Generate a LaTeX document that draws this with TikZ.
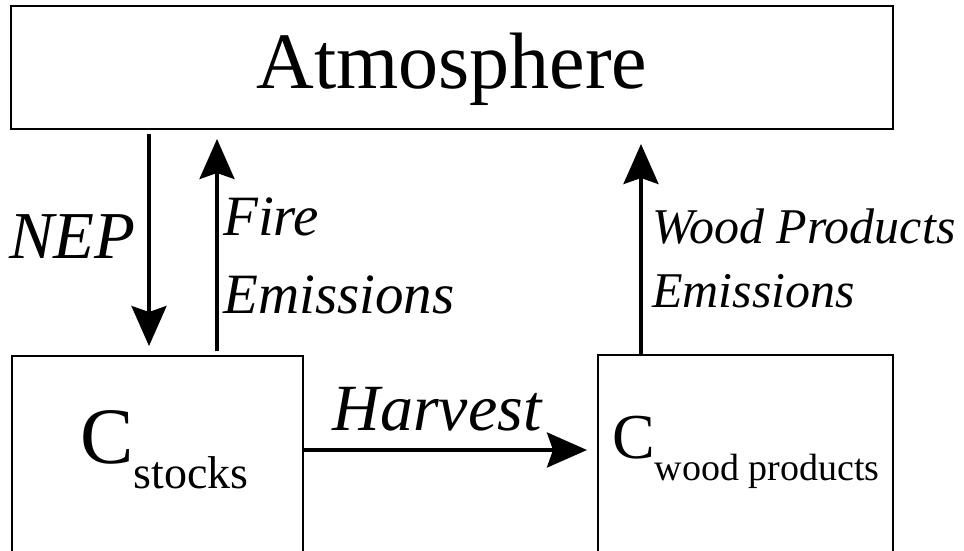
\documentclass[tikz,border=0pt]{standalone}
\usepackage{fontspec}
\setmainfont{Liberation Serif}
\usetikzlibrary{arrows.meta,calc}
\tikzset{
  pool/.style={draw=black, line width=2pt, rectangle, inner sep=0pt},
  flow/.style={line width=3.5pt, -{Stealth[length=40pt,width=35pt,inset=6pt]}},
  lbl/.style={anchor=base west, inner sep=0pt},
}
\newcommand{\fsz}[2]{\fontsize{#1}{#2}\selectfont}

\begin{document}
\begin{tikzpicture}[x=1pt,y=-1pt]
  \clip (0,0) rectangle (964,550);
  % boxes
  \node[pool, minimum width=882.5pt, minimum height=123.5pt,
        text height=60pt, text depth=18pt] (atmo) at (451.75,67.25) {\fsz{80}{80}Atmosphere};
  \node[pool, minimum width=291.5pt, minimum height=300pt] (stocks) at (157.25,506) {};
  \node[pool, minimum width=295pt, minimum height=300pt] (wood) at (745.5,505) {};
  \node[lbl] (stockstxt) at (80,463) {\fsz{80}{80}C\raisebox{-25pt}{\fsz{46}{46}stocks}};
  \node[lbl] (woodtxt) at (612,458) {\fsz{64}{64}C\raisebox{-22pt}{\fsz{38}{38}wood products}};
  % columns
  \coordinate (nepx) at (149,0);
  \coordinate (firex) at (217,0);
  \coordinate (woodx) at (641,0);
  \coordinate (harvy) at (0,450);
  % flows
  \draw[flow, shorten <=4pt, shorten >=9pt] (atmo.south -| nepx) -- (stocks.north -| nepx);
  \draw[flow, shorten <=4pt, shorten >=9pt] (stocks.north -| firex) -- (atmo.south -| firex);
  \draw[flow, shorten >=14pt] (wood.north -| woodx) -- (atmo.south -| woodx);
  \draw[flow, shorten >=10pt] (stocks.east |- harvy) -- (wood.west |- harvy);
  % labels (base = last line)
  \node[lbl, font={\fsz{67}{67}\itshape}] (nep) at (9,258) {NEP};
  \node[lbl, align=left, font={\fsz{57}{78}\itshape}] (fire) at (223,313) {Fire\\Emissions};
  \node[lbl, align=left, font={\fsz{50}{64}\itshape}] (woodem) at (652,307) {Wood Products\\Emissions};
  \node[anchor=base, inner sep=0pt, font={\fsz{66}{66}\itshape}] (harv) at (437,430) {Harvest};
\end{tikzpicture}
\end{document}
